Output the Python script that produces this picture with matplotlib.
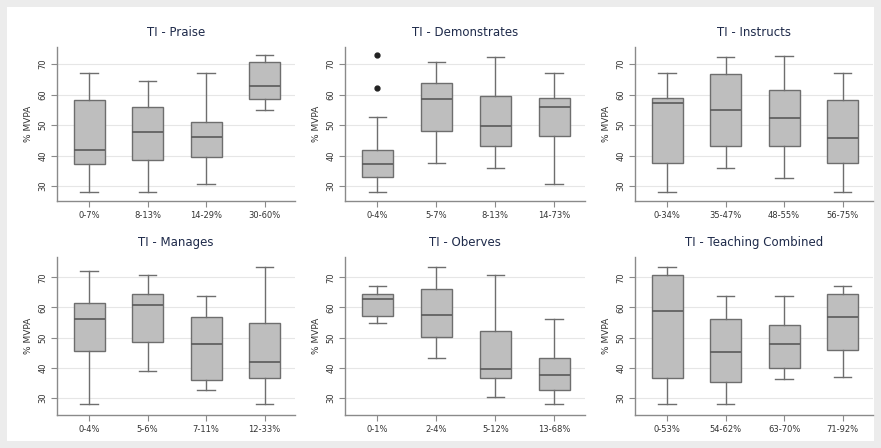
import matplotlib
matplotlib.use('Agg')
import matplotlib.pyplot as plt
from matplotlib.patches import Rectangle

# Valores (% MVPA): bigote inf, Q1, mediana, Q3, bigote sup
titulos = ['TI - Praise', 'TI - Demonstrates', 'TI - Instructs',
           'TI - Manages', 'TI - Oberves', 'TI - Teaching Combined']

etiquetas = [
    ['0-7%', '8-13%', '14-29%', '30-60%'],
    ['0-4%', '5-7%', '8-13%', '14-73%'],
    ['0-34%', '35-47%', '48-55%', '56-75%'],
    ['0-4%', '5-6%', '7-11%', '12-33%'],
    ['0-1%', '2-4%', '5-12%', '13-68%'],
    ['0-53%', '54-62%', '63-70%', '71-92%'],
]

bigote_inf = [
    [27.9, 27.9, 30.7, 54.9],
    [27.9, 37.6, 35.8, 30.7],
    [27.9, 35.8, 32.8, 27.9],
    [27.8, 38.7, 32.4, 27.8],
    [54.8, 43.3, 30.3, 27.8],
    [27.8, 27.8, 36.1, 36.7],
]
q1 = [
    [37.2, 38.7, 39.6, 58.6],
    [33.1, 48.0, 43.1, 46.4],
    [37.4, 43.2, 43.1, 37.6],
    [45.6, 48.6, 35.9, 36.4],
    [57.0, 50.3, 36.4, 32.6],
    [36.4, 35.2, 39.8, 45.8],
]
mediana = [
    [41.8, 47.6, 46.2, 62.8],
    [37.2, 58.7, 49.7, 56.0],
    [57.1, 55.1, 52.4, 45.8],
    [56.1, 60.8, 47.8, 42.0],
    [62.8, 57.6, 39.4, 37.4],
    [58.9, 45.3, 47.8, 56.9],
]
q3 = [
    [58.2, 56.0, 50.9, 70.8],
    [41.8, 63.7, 59.5, 59.0],
    [59.0, 66.7, 61.5, 58.2],
    [61.4, 64.4, 56.7, 54.8],
    [64.4, 66.3, 52.2, 43.3],
    [70.9, 56.1, 54.2, 64.4],
]
bigote_sup = [
    [67.2, 64.4, 67.2, 73.0],
    [52.5, 70.8, 72.2, 67.2],
    [67.2, 72.2, 72.6, 67.2],
    [72.0, 70.8, 63.9, 73.6],
    [67.0, 73.6, 70.8, 56.1],
    [73.6, 63.9, 63.9, 67.0],
]
atipicos = [
    [[], [], [], []],
    [[73.0, 62.3], [], [], []],
    [[], [], [], []],
    [[], [], [], []],
    [[], [], [], []],
    [[], [], [], []],
]

W, H = 881, 448
fig = plt.figure(figsize=(W / 100, H / 100), dpi=100)
fig.patch.set_facecolor('#ececec')
fondo = Rectangle((7 / W, 7 / H), (W - 14) / W, (H - 14) / H,
                  transform=fig.transFigure, facecolor='white',
                  edgecolor='none', zorder=-10)
fig.patches.append(fondo)

# posiciones de los ejes en pixeles (izq, der, arriba, abajo)
cols = [(57, 295), (345, 585), (635, 873)]
filas = [(47, 201, (25.1, 75.6)), (257, 415, (24.2, 76.8))]

gris = '#6e6e6e'
for i in range(6):
    fila = filas[i // 3]
    col = cols[i % 3]
    x0, x1 = col
    top, bot, ylim = fila
    ax = fig.add_axes([x0 / W, 1 - bot / H, (x1 - x0) / W, (bot - top) / H])
    ax.set_facecolor('none')

    stats = []
    for j in range(4):
        stats.append({'whislo': bigote_inf[i][j], 'q1': q1[i][j],
                      'med': mediana[i][j], 'q3': q3[i][j],
                      'whishi': bigote_sup[i][j], 'fliers': atipicos[i][j]})
    ax.bxp(stats, positions=[1, 2, 3, 4], widths=0.53, patch_artist=True,
           boxprops=dict(facecolor='#bebebe', edgecolor=gris, linewidth=1.0),
           medianprops=dict(color='#5a5a5a', linewidth=1.2),
           whiskerprops=dict(color=gris, linewidth=1.0),
           capprops=dict(color=gris, linewidth=1.0),
           capwidths=0.3,
           flierprops=dict(marker='o', markersize=3.5, markerfacecolor='#222222',
                           markeredgecolor='#222222'))

    ax.set_xlim(0.45, 4.52)
    ax.set_ylim(*ylim)
    ax.set_yticks([30, 40, 50, 60, 70])
    ax.set_yticklabels(['30', '40', '50', '60', '70'], rotation=90, va='center')
    ax.set_xticks([1, 2, 3, 4])
    ax.set_xticklabels(etiquetas[i])
    ax.grid(axis='y', color='#e6e6e6', linewidth=0.8)
    ax.set_axisbelow(True)
    for s in ['top', 'right']:
        ax.spines[s].set_visible(False)
    for s in ['left', 'bottom']:
        ax.spines[s].set_color('#8a8a8a')
        ax.spines[s].set_linewidth(1.0)
    ax.tick_params(axis='both', colors='#8a8a8a', length=4, width=0.8,
                   labelsize=6, labelcolor='#333333', pad=3)
    ax.set_ylabel('% MVPA', fontsize=6.5, color='#333333', labelpad=4)
    ax.set_title(titulos[i], fontsize=8.5, color='#1e2a4a', pad=8)

fig.savefig('out.png', dpi=100, facecolor=fig.get_facecolor())
